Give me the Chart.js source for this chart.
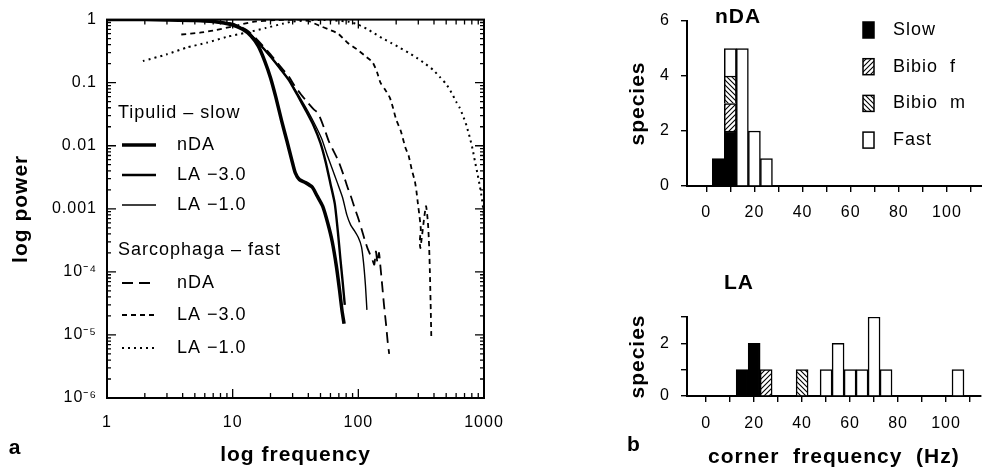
<!DOCTYPE html>
<html lang="en">
<head>
<meta charset="UTF-8">
<title>Power spectra and corner frequencies</title>
<script src="https://cdn.jsdelivr.net/npm/chart.js"></script>
<style>
  html, body { margin: 0; padding: 0; background: #fff; }
  body { width: 982px; height: 470px; position: relative; overflow: hidden; }
  .panel { position: absolute; }
  #spectraBox { left: 0; top: 0; width: 560px; height: 470px; }
  #ndaBox { left: 560px; top: 0; width: 422px; height: 235px; }
  #laBox { left: 560px; top: 235px; width: 422px; height: 235px; }
</style>
</head>
<body>
<div class="panel" id="spectraBox"><canvas id="spectra"></canvas></div>
<div class="panel" id="ndaBox"><canvas id="nda"></canvas></div>
<div class="panel" id="laBox"><canvas id="la"></canvas></div>

<script>
// ---- panel a: normalised power spectra ----
const freqTickLabels = ['1', '10', '100', '1000'];
const powerTickLabels = ['10⁻⁶', '10⁻⁵', '10⁻⁴', '0.001', '0.01', '0.1', '1'];
const groupNames = ['Tipulid – slow', 'Sarcophaga – fast'];
const seriesNames = ['nDA', 'LA −3.0', 'LA −1.0'];

// Tipulid (slow)
const tipNdaF = [1, 2, 3, 5, 7, 10, 12, 14, 16, 18, 20, 22, 24.5, 27, 29.5, 31.5, 34, 38, 43, 47, 52, 57, 62, 67, 71, 74, 77];
const tipNdaP = [1, 1, 0.99, 0.97, 0.93, 0.82, 0.7, 0.55, 0.38, 0.22, 0.12, 0.06, 0.025, 0.012, 0.006, 0.0037, 0.0029, 0.0026, 0.0022, 0.0016, 0.0011, 6e-4, 3e-4, 1.2e-4, 5e-5, 2.5e-5, 1.5e-5];
const tipLa3F = [1, 3, 5, 7, 10, 13, 16, 20, 24, 28, 33, 38, 44, 50, 55, 60, 65, 69, 72, 75, 78];
const tipLa3P = [1, 0.99, 0.97, 0.93, 0.84, 0.65, 0.43, 0.26, 0.165, 0.11, 0.062, 0.037, 0.021, 0.011, 0.0055, 0.0025, 0.0012, 4e-4, 1.6e-4, 7e-5, 3e-5];
const tipLa1F = [1, 3, 5, 7, 10, 13, 16, 20, 24, 28, 33, 38, 44, 51, 57, 62, 68, 75, 81, 87, 93, 100, 106, 110, 114, 117];
const tipLa1P = [1, 0.99, 0.97, 0.93, 0.84, 0.65, 0.43, 0.26, 0.165, 0.112, 0.066, 0.041, 0.024, 0.013, 0.0068, 0.0043, 0.0026, 0.0015, 8e-4, 5.5e-4, 4.5e-4, 3.5e-4, 2.5e-4, 1.4e-4, 6e-5, 2.5e-5];

// Sarcophaga (fast)
const sarNdaF = [1, 3, 5, 7, 10, 13, 16, 20, 24, 28, 31, 35, 40, 44, 47, 50, 54, 58, 64, 70, 76, 82, 88, 94, 100, 106, 112, 118, 124, 130, 134, 138, 142, 146, 150, 155, 160, 166, 171, 176];
const sarNdaP = [1, 0.99, 0.97, 0.94, 0.86, 0.68, 0.46, 0.28, 0.18, 0.125, 0.09, 0.065, 0.047, 0.038, 0.034, 0.027, 0.018, 0.012, 0.008, 0.0055, 0.0035, 0.0022, 0.0015, 0.001, 7e-4, 4.8e-4, 3.3e-4, 2.4e-4, 1.9e-4, 1.5e-4, 1.3e-4, 2.1e-4, 1.4e-4, 2e-4, 1.2e-4, 6e-5, 3e-5, 1.5e-5, 8e-6, 5e-6];
const sarLa3F = [3.9, 5.5, 7, 10, 14.5, 22, 34, 40, 49, 58, 69, 82, 97, 112, 130, 141, 150, 163, 178, 188, 200, 218, 237, 251, 266, 282, 290, 298, 307, 314, 308, 312, 345, 358, 366, 372, 377, 381];
const sarLa3P = [0.58, 0.62, 0.67, 0.78, 0.92, 0.98, 1.0, 0.95, 0.8, 0.7, 0.6, 0.43, 0.34, 0.27, 0.21, 0.146, 0.1, 0.078, 0.058, 0.041, 0.026, 0.017, 0.0093, 0.007, 0.0042, 0.0027, 0.0019, 0.0012, 7.5e-4, 4.7e-4, 3e-4, 2.4e-4, 1.1e-3, 6e-4, 2.5e-4, 8e-5, 2.5e-5, 8.6e-6];
const sarLa1F = [1.93, 2.97, 4.3, 6.2, 8.9, 12.8, 18.5, 25, 30, 38, 50, 65, 85, 100, 116, 135, 157, 185, 213, 250, 290, 340, 393, 450, 500, 550, 600, 640, 680, 725, 770, 810, 845, 890, 930, 960, 985, 1000];
const sarLa1P = [0.22, 0.28, 0.36, 0.43, 0.53, 0.62, 0.74, 0.86, 0.93, 0.97, 0.99, 0.97, 0.92, 0.83, 0.72, 0.6, 0.5, 0.42, 0.36, 0.3, 0.25, 0.2, 0.16, 0.12, 0.095, 0.07, 0.05, 0.04, 0.03, 0.021, 0.0136, 0.009, 0.0058, 0.0035, 0.0022, 0.0015, 0.001, 7e-4];

// ---- panel b: corner frequency histograms ----
const cornerTicks = [0, 10, 20, 30, 40, 50, 60, 70, 80, 90, 100, 110];
const cornerLabels = ['0', '', '20', '', '40', '', '60', '', '80', '', '100', ''];
const classNames = ['Slow', 'Bibio  f', 'Bibio  m', 'Fast'];

const ndaBins = [5, 10, 15, 20, 25];
const ndaSlow = [1, 2, 0, 0, 0];
const ndaBibioF = [0, 1, 0, 0, 0];
const ndaBibioM = [0, 1, 0, 0, 0];
const ndaFast = [0, 1, 5, 2, 1];
const ndaYTicks = [0, 2, 4, 6];
const ndaYLabels = ['0', '2', '4', '6'];

const laBins = [15, 20, 25, 40, 50, 55, 60, 65, 70, 75, 105];
const laSlow = [1, 2, 0, 0, 0, 0, 0, 0, 0, 0, 0];
const laBibioF = [0, 0, 1, 0, 0, 0, 0, 0, 0, 0, 0];
const laBibioM = [0, 0, 0, 1, 0, 0, 0, 0, 0, 0, 0];
const laFast = [0, 0, 0, 0, 1, 2, 1, 1, 3, 1, 1];
const laYTicks = [0, 1, 2, 3];
const laYLabels = ['0', '', '2', ''];

const FONT = "'Liberation Sans', Arial, Helvetica, sans-serif";
Chart.defaults.font.family = FONT;
Chart.defaults.color = '#000';
Chart.defaults.animation = false;

// wide letter spacing like the original typesetting
Chart.register({
  id: 'spacing',
  afterInit(c) { c.ctx.letterSpacing = '1px'; },
  beforeUpdate(c) { c.ctx.letterSpacing = '1px'; },
  beforeDraw(c) { c.ctx.letterSpacing = '1px'; }
});

const isDecade = v => Math.abs(Math.log10(v) - Math.round(Math.log10(v))) < 1e-6;

function logTicks(lo, hi) {
  const out = [];
  for (let e = Math.round(Math.log10(lo)); e < Math.round(Math.log10(hi)); e++) {
    for (let m = 1; m < 10; m++) out.push({ value: m * Math.pow(10, e) });
  }
  out.push({ value: hi });
  return out;
}

// free text marks (panel letters, histogram titles)
function marks(list) {
  return {
    id: 'marks',
    afterDraw(chart) {
      const ctx = chart.ctx;
      ctx.save();
      ctx.fillStyle = '#000';
      ctx.textAlign = 'center';
      ctx.textBaseline = 'middle';
      list.forEach(m => {
        ctx.font = 'bold ' + m.size + 'px ' + FONT;
        ctx.fillText(m.text, m.x, m.y);
      });
      ctx.restore();
    }
  };
}

// box round the spectra with inward ticks on all four sides
const frameTicks = {
  id: 'frameTicks',
  afterDraw(chart) {
    const { ctx, chartArea: { left, right, top, bottom }, scales: { x, y } } = chart;
    ctx.save();
    ctx.strokeStyle = '#000';
    ctx.lineWidth = 2;
    ctx.strokeRect(left, top, right - left, bottom - top);
    ctx.lineWidth = 1.3;
    ctx.beginPath();
    x.ticks.forEach(t => {
      const px = x.getPixelForValue(t.value);
      const len = isDecade(t.value) ? 9 : 5;
      ctx.moveTo(px, bottom); ctx.lineTo(px, bottom - len);
      ctx.moveTo(px, top); ctx.lineTo(px, top + len);
    });
    y.ticks.forEach(t => {
      const py = y.getPixelForValue(t.value);
      const len = isDecade(t.value) ? 9 : 4;
      ctx.moveTo(left, py); ctx.lineTo(left + len, py);
      ctx.moveTo(right, py); ctx.lineTo(right - len, py);
    });
    ctx.stroke();
    ctx.restore();
  }
};

// grouped legend inside the spectra panel
const spectraLegend = {
  id: 'spectraLegend',
  afterDraw(chart) {
    const ctx = chart.ctx;
    const headerY = [113, 250];
    const rowY = [[145, 175, 205], [283, 315, 348]];
    ctx.save();
    ctx.fillStyle = '#000';
    ctx.textBaseline = 'middle';
    ctx.font = '18px ' + FONT;
    chart.data.datasets.forEach((ds, i) => {
      const g = Math.floor(i / 3), r = i % 3;
      if (r === 0) ctx.fillText(groupNames[g], 118, headerY[g]);
      const yy = rowY[g][r];
      ctx.strokeStyle = '#000';
      ctx.lineWidth = ds.borderWidth;
      ctx.setLineDash(ds.borderDash || []);
      ctx.beginPath();
      ctx.moveTo(122, yy); ctx.lineTo(156, yy);
      ctx.stroke();
      ctx.setLineDash([]);
      ctx.fillText(seriesNames[r], 177, yy);
    });
    ctx.restore();
  }
};

const spectraSeries = [
  { f: tipNdaF, p: tipNdaP, width: 3.5, dash: [] },
  { f: tipLa3F, p: tipLa3P, width: 2.4, dash: [] },
  { f: tipLa1F, p: tipLa1P, width: 1.4, dash: [] },
  { f: sarNdaF, p: sarNdaP, width: 1.8, dash: [11, 6] },
  { f: sarLa3F, p: sarLa3P, width: 1.8, dash: [5, 4] },
  { f: sarLa1F, p: sarLa1P, width: 2, dash: [2, 4] }
];

new Chart(document.getElementById('spectra'), {
  type: 'scatter',
  data: {
    datasets: spectraSeries.map((s, i) => ({
      label: groupNames[Math.floor(i / 3)] + ' ' + seriesNames[i % 3],
      data: s.f.map((f, k) => ({ x: f, y: s.p[k] })),
      showLine: true,
      borderColor: '#000',
      borderWidth: s.width,
      borderDash: s.dash,
      pointRadius: 0,
      tension: 0.2,
      fill: false
    }))
  },
  options: {
    responsive: true,
    maintainAspectRatio: false,
    layout: { padding: { left: 0, top: 18, right: 76, bottom: 0 } },
    plugins: { legend: { display: false }, tooltip: { enabled: false } },
    scales: {
      x: {
        type: 'logarithmic', min: 1, max: 1000,
        afterFit(s) { s.height = 72; },
        afterBuildTicks(s) { s.ticks = logTicks(1, 1000); },
        grid: { display: false, drawTicks: false },
        border: { display: false },
        ticks: {
          autoSkip: false, maxRotation: 0, padding: 15, font: { size: 16 },
          callback: v => isDecade(v) ? freqTickLabels[Math.round(Math.log10(v))] : ''
        },
        title: { display: true, text: 'log frequency', font: { size: 21, weight: 'bold' }, padding: { top: 0, bottom: 2 } }
      },
      y: {
        type: 'logarithmic', min: 1e-6, max: 1,
        afterFit(s) { s.width = 107; },
        afterBuildTicks(s) { s.ticks = logTicks(1e-6, 1); },
        grid: { display: false, drawTicks: false },
        border: { display: false },
        ticks: {
          autoSkip: false, padding: 10, font: { size: 16 },
          callback: v => isDecade(v) ? powerTickLabels[Math.round(Math.log10(v)) + 6] : ''
        },
        title: { display: true, text: 'log power', font: { size: 21, weight: 'bold' }, padding: { top: 9, bottom: 0 } }
      }
    }
  },
  plugins: [frameTicks, spectraLegend, marks([{ text: 'a', x: 15, y: 448, size: 21 }])]
});

// ---- histograms ----
function hatch(canvas, dir) {
  const c = document.createElement('canvas');
  c.width = c.height = 5;
  const g = c.getContext('2d');
  g.fillStyle = '#fff';
  g.fillRect(0, 0, 5, 5);
  g.strokeStyle = '#000';
  g.lineWidth = 1.1;
  g.beginPath();
  if (dir > 0) {
    g.moveTo(0, 5); g.lineTo(5, 0);
    g.moveTo(-1, 1); g.lineTo(1, -1);
    g.moveTo(4, 6); g.lineTo(6, 4);
  } else {
    g.moveTo(0, 0); g.lineTo(5, 5);
    g.moveTo(4, -1); g.lineTo(6, 1);
    g.moveTo(-1, 4); g.lineTo(1, 6);
  }
  g.stroke();
  return canvas.getContext('2d').createPattern(c, 'repeat');
}

const histLegend = {
  id: 'histLegend',
  afterDraw(chart) {
    const ctx = chart.ctx;
    ctx.save();
    ctx.font = '18px ' + FONT;
    ctx.textBaseline = 'middle';
    chart.data.datasets.forEach((ds, i) => {
      const yy = 30 + i * 36.7;
      ctx.fillStyle = ds.backgroundColor;
      ctx.fillRect(303, yy - 8, 11, 16);
      ctx.strokeStyle = '#000';
      ctx.lineWidth = 1.5;
      ctx.strokeRect(303, yy - 8, 11, 16);
      ctx.fillStyle = '#000';
      ctx.fillText(ds.label, 333, yy);
    });
    ctx.restore();
  }
};

function histogram(id, bins, counts, yMax, yTicks, yLabels, axisHeight, tickPad, xTitle, extra) {
  const canvas = document.getElementById(id);
  const fills = ['#000', hatch(canvas, 1), hatch(canvas, -1), '#fff'];
  return new Chart(canvas, {
    type: 'bar',
    data: {
      datasets: counts.map((c, i) => ({
        label: classNames[i],
        data: bins.map((b, k) => ({ x: b, y: c[k] })).filter(d => d.y > 0),
        backgroundColor: fills[i],
        borderColor: '#000',
        borderWidth: 1.5,
        barPercentage: 1,
        categoryPercentage: 1
      }))
    },
    options: {
      responsive: true,
      maintainAspectRatio: false,
      layout: { padding: { left: 0, top: extra.top, right: 0, bottom: 0 } },
      plugins: { legend: { display: false }, tooltip: { enabled: false } },
      scales: {
        x: {
          type: 'linear', stacked: true, min: -8, max: 114.5, offset: false,
          afterFit(s) { s.height = axisHeight; },
          afterBuildTicks(s) { s.ticks = cornerTicks.map(v => ({ value: v })); },
          grid: { display: true, offset: false, drawOnChartArea: false, drawTicks: true, tickLength: 6, color: '#000', lineWidth: 1.4 },
          border: { display: true, color: '#000', width: 2 },
          ticks: {
            autoSkip: false, maxRotation: 0, padding: tickPad, font: { size: 16 },
            callback: (v, i) => cornerLabels[i]
          },
          title: xTitle
        },
        y: {
          stacked: true, min: 0, max: yMax,
          afterFit(s) { s.width = 127; },
          afterBuildTicks(s) { s.ticks = yTicks.map(v => ({ value: v })); },
          grid: { display: true, drawOnChartArea: false, drawTicks: true, tickLength: 6, color: '#000', lineWidth: 1.4 },
          border: { display: true, color: '#000', width: 2 },
          ticks: { padding: 11, font: { size: 16 }, callback: (v, i) => yLabels[i] },
          title: { display: true, text: 'species', font: { size: 21, weight: 'bold' }, padding: { top: 66, bottom: 0 } }
        }
      }
    },
    plugins: extra.plugins
  });
}

histogram('nda', ndaBins, [ndaSlow, ndaBibioF, ndaBibioM, ndaFast], 6, ndaYTicks, ndaYLabels, 49, 11,
  { display: false },
  { top: 21, plugins: [histLegend, marks([{ text: 'nDA', x: 178, y: 17, size: 21 }])] });

histogram('la', laBins, [laSlow, laBibioF, laBibioM, laFast], 3, laYTicks, laYLabels, 74, 12,
  { display: true, text: 'corner  frequency  (Hz)', font: { size: 21, weight: 'bold' }, padding: { top: 0, bottom: 0 } },
  { top: 82, plugins: [marks([{ text: 'LA', x: 179, y: 48, size: 21 }, { text: 'b', x: 74, y: 210, size: 21 }])] });
</script>
</body>
</html>
